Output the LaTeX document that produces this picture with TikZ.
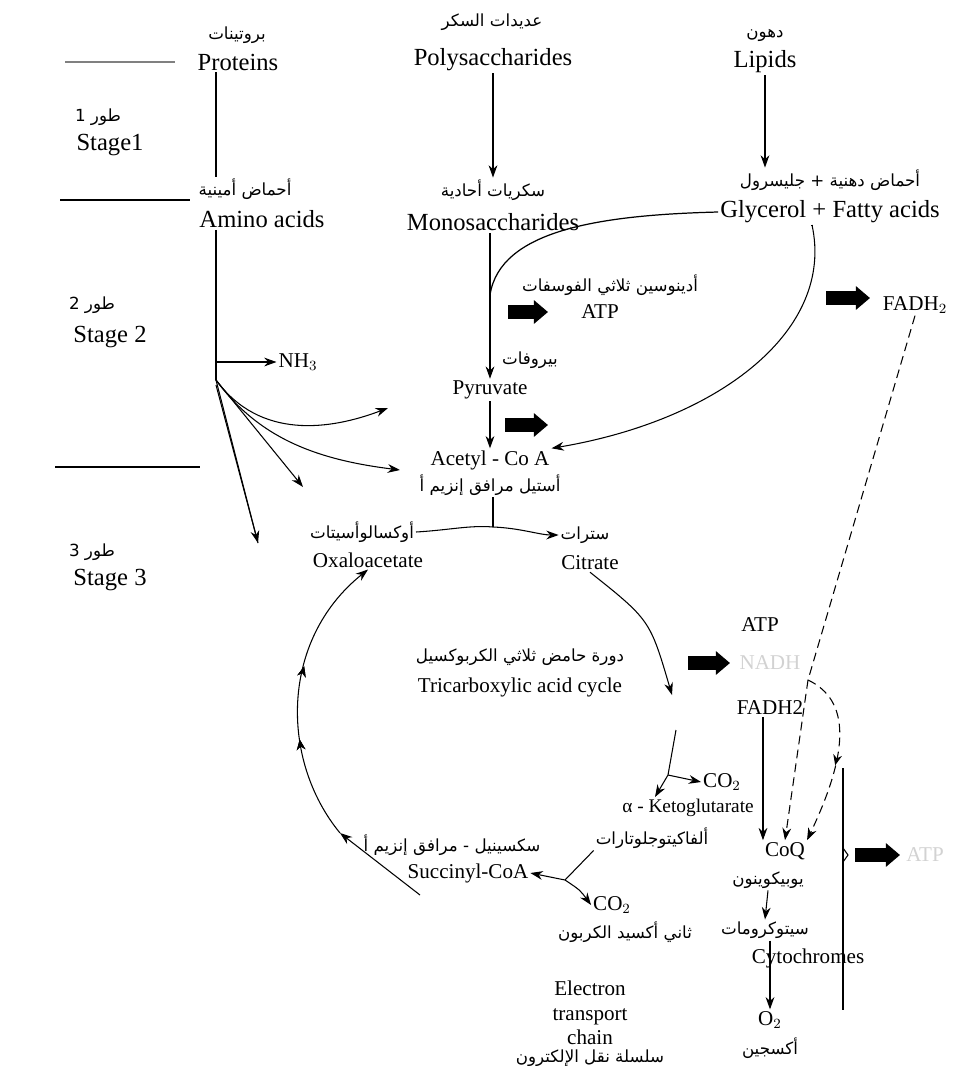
\documentclass[tikz,border=0pt]{standalone}
\usepackage{fontspec}
\setmainfont{Liberation Serif}
\newfontfamily\arabicfont[Script=Arabic]{DejaVu Sans}
\TeXXeTstate=1
\newcommand{\arb}[1]{{\arabicfont\beginR #1\endR}}
\usetikzlibrary{arrows.meta,decorations.markings}
\tikzset{
  big/.style={font=\fontsize{14}{16}\selectfont, inner sep=1pt},
  sml/.style={font=\fontsize{12}{15}\selectfont, inner sep=1pt},
  arab/.style={font=\fontsize{9.5}{11}\selectfont, inner sep=1pt},
  flow/.style={-{Stealth[length=7pt,width=5pt]}, line width=0.6pt},
  fat/.style={line width=8pt, -{Triangle[length=8pt,width=13pt]}},
  dshd/.style={dash pattern=on 5pt off 3pt, line width=0.6pt},
  stage/.style={line width=0.8pt},
  marr/.style={postaction={decorate},decoration={markings,
    mark=at position #1 with {\arrow{Stealth[length=6pt,width=5pt]}}}}
}
\begin{document}
\begin{tikzpicture}[x=0.02cm,y=-0.02cm]
	\useasboundingbox (0,0) rectangle (976,1066);

	\draw[stage,gray] (65,62) -- (175,62);
	\draw[stage] (60,200) -- (190,200);
	\draw[stage] (55,467) -- (200,467);
	\draw (98,117) node (st1a)[arab]{\arb{طور 1}};
	\draw (110,145) node (st1)[big]{Stage1};
	\draw (92,305) node (st2a)[arab]{\arb{طور 2}};
	\draw (110,337) node (st2)[big]{Stage 2};
	\draw (92,552) node (st3a)[arab]{\arb{طور 3}};
	\draw (110,580) node (st3)[big]{Stage 3};

	\draw (237,35) node (prota)[arab]{\arb{بروتينات}};
	\draw (238,62) node (prot)[big]{Proteins};
	\draw (492,22) node (polya)[arab]{\arb{عديدات السكر}};
	\draw (493,60) node (poly)[big]{Polysaccharides};
	\draw (765,35) node (lipa)[arab]{\arb{دهون}};
	\draw (765,62) node (lip)[big]{Lipids};

	\draw (245,189) node (aminoa)[arab]{\arb{أحماض أمينية}};
	\draw (262,219) node (amino)[big]{Amino acids};
	\draw (493,190) node (monoa)[arab]{\arb{سكريات أحادية}};
	\draw (493,222) node (mono)[big]{Monosaccharides};
	\draw (830,180) node (glyca)[arab]{\arb{أحماض دهنية + جليسرول}};
	\draw (830,212) node (glyc)[big]{Glycerol + Fatty acids};

	\draw (610,285) node (atpa)[arab]{\arb{أدينوسين ثلاثي الفوسفات}};
	\draw (600,312) node (atp1)[sml]{ATP};
	\draw (915,305) node (fadh1)[sml]{FADH$_2$};
	\draw (298,362) node (nh3)[sml]{NH$_3$};
	\draw (530,360) node (pyra)[arab]{\arb{بيروفات}};
	\draw (490,390) node (pyr)[sml]{Pyruvate};
	\draw (490,460) node (acet)[sml]{Acetyl - Co A};
	\draw (490,485) node (aceta)[arab]{\arb{أستيل مرافق إنزيم أ}};

	\draw (362,532) node (oxaa)[arab]{\arb{أوكسالوأسيتات}};
	\draw (368,560) node (oxa)[sml]{Oxaloacetate};
	\draw (585,535) node (cita)[arab]{\arb{سترات}};
	\draw (590,563) node (cit)[sml]{Citrate};
	\draw (520,657) node (tcaa)[arab]{\arb{دورة حامض ثلاثي الكربوكسيل}};
	\draw (520,687) node (tca)[sml]{Tricarboxylic acid cycle};

	\draw (760,625) node (atp2)[sml]{ATP};
	\draw (770,663) node (nadh)[sml,gray!35]{NADH};
	\draw (770,708) node (fadh2)[sml]{FADH2};
	\draw (722,782) node (co2a)[sml]{CO$_2$};
	\draw (688,808) node (keto)[sml,font=\fontsize{11}{13}\selectfont]{α - Ketoglutarate};
	\draw (652,838) node (ketoa)[arab]{\arb{ألفاكيتوجلوتارات}};
	\draw (452,845) node (succa)[arab]{\arb{سكسينيل - مرافق إنزيم أ}};
	\draw (468,873) node (succ)[sml]{Succinyl-CoA};
	\draw (612,905) node (co2b)[sml]{CO$_2$};
	\draw (625,932) node (co2ba)[arab]{\arb{ثاني أكسيد الكربون}};

	\draw (785,851) node (coq)[sml]{CoQ};
	\draw (768,880) node (coqa)[arab]{\arb{يوبيكوينون}};
	\draw (765,930) node (cyta)[arab]{\arb{سيتوكرومات}};
	\draw (808,958) node (cyt)[sml]{Cytochromes};
	\draw (770,1020) node (o2)[sml]{O$_2$};
	\draw (770,1048) node (o2a)[arab]{\arb{أكسجين}};
	\draw (590,1013) node (etc)[sml,align=center,font=\fontsize{12}{14}\selectfont]{Electron\\transport\\chain};
	\draw (590,1058) node (etca)[arab]{\arb{سلسلة نقل الإلكترون}};
	\draw (925,855) node (atp3)[sml,gray!35]{ATP};

	\coordinate (br) at (216,380);
	\coordinate (p1) at (388,408);
	\coordinate (p2) at (400,470);
	\coordinate (p3) at (303,487);
	\coordinate (p4) at (258,543);
	\coordinate (gj) at (490,295);
	\coordinate (fa) at (812,225);
	\coordinate (cj) at (493,527);
	\coordinate (k1) at (676,730);
	\coordinate (kj) at (668,775);
	\coordinate (kt) at (655,797);
	\coordinate (sj) at (565,880);
	\coordinate (sl) at (420,895);
	\coordinate (sa) at (340,833);
	\coordinate (dj) at (808,680);
	\coordinate (bt) at (843,768);
	\coordinate (bb) at (843,1010);

	\draw[line width=0.6pt] (prot.south -| br) -- (aminoa.north -| br);
	\draw[line width=0.6pt] (amino.south -| br) -- (br);
	\draw[flow] (br |- nh3) -- (nh3.west);
	\draw[flow] (br) .. controls (260,440) and (330,430) .. (p1);
	\draw[flow] (br) .. controls (260,440) and (320,460) .. (p2);
	\draw[flow] (br) -- (p3);
	\draw[flow] (br) -- (p4);
	\draw[line width=0.6pt] ([yshift=-0.1cm]br) -- (p4);

	\draw[flow] (poly.south) -- (monoa.north);
	\draw[flow] (mono.south -| pyr) -- (pyr.north);
	\draw[line width=0.7pt] (glyc.west) .. controls (600,215) and (500,230) .. (gj);
	\draw[flow] (lip.south) -- (glyca.north -| lip);
	\draw[line width=0.6pt] (glyc.south -| fa) -- (fa);
	\draw[flow] (fa) .. controls (835,330) and (720,420) .. (acet.north east);
	\draw[flow] (pyr.south) -- (acet.north);

	\draw[fat] (508,312) -- (548,312);
	\draw[fat] (505,425) -- (548,425);
	\draw[fat] (826,298) -- (870,298);
	\draw[fat] (688,663) -- (730,663);
	\draw[fat] (855,855) -- (900,855);

	\draw[line width=0.6pt] (aceta.south -| cj) -- (cj);
	\draw[flow] (oxaa.east) .. controls (450,530) and (470,525) .. (cj) .. controls (520,528) and (540,535) .. (cita.west);
	\draw[flow] (cit.south) .. controls (650,620) .. (672,695);
	\draw[line width=0.6pt] (k1) -- (kj);
	\draw[flow] (kj) -- (kt);
	\draw[flow] (kj) -- (co2a.west);
	\draw[line width=0.6pt] (ketoa.south west) -- (sj);
	\draw[flow] (sj) -- (succ.east);
	\draw[flow] (sj) .. controls (580,890) .. (co2b.west);
	\draw[flow] (sl) -- (sa);
	\draw[flow,marr=0.35,marr=0.6] (sa) .. controls (280,760) and (280,640) .. (oxa.south);

	\draw[dshd] (fadh1.south) -- (dj);
	\draw[dshd,flow] (dj) -- (coq.north);
	\draw[flow] (fadh2.south -| coq.north west) -- (coq.north west);
	\draw[dshd,flow,marr=0.55] (dj) .. controls (850,700) and (850,750) .. (coq.north east);
	\draw[line width=0.8pt] (bt) -- (bb);
	\draw[line width=0.6pt] (843,848) -- (848,855) -- (843,862);
	\draw[flow] (coqa.south) -- (cyta.north);
	\draw[flow] (cyta.south -| o2) -- (o2.north);
\end{tikzpicture}
\end{document}
